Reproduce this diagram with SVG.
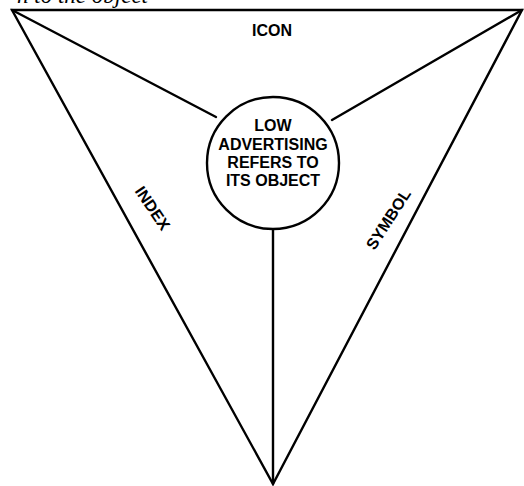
<svg xmlns="http://www.w3.org/2000/svg" width="524" height="486" viewBox="0 0 524 486">
<style>
.ln{stroke:#000;stroke-width:2.4;fill:none;stroke-linecap:round}
.lb{font-family:"Liberation Sans",Arial,sans-serif;font-weight:bold;font-size:16px;fill:#000;text-anchor:middle}
</style>
<rect width="524" height="486" fill="#fff"/>
<text x="148" y="3" text-anchor="end" font-family="Liberation Serif, serif" font-style="italic" font-size="23" fill="#000">n to the object</text>
<g id="connectors">
<polygon class="ln" points="12,10 522,10 273,484"/>
<line class="ln" x1="12" y1="10" x2="216" y2="117"/>
<line class="ln" x1="522" y1="10" x2="332" y2="120"/>
<line class="ln" x1="273" y1="229" x2="273" y2="484"/>
</g>
<g id="icon"><text class="lb" x="272" y="36" font-size="17">ICON</text></g>
<g id="index"><text class="lb" transform="translate(153,208) rotate(56)" x="0" y="6">INDEX</text></g>
<g id="symbol"><text class="lb" transform="translate(388,219) rotate(-57)" x="0" y="6">SYMBOL</text></g>
<g id="center">
<circle cx="273" cy="163" r="66" fill="#fff" stroke="#000" stroke-width="2.4"/>
<text class="lb" x="273" y="131">LOW</text>
<text class="lb" x="273" y="150">ADVERTISING</text>
<text class="lb" x="273" y="168">REFERS TO</text>
<text class="lb" x="273" y="186">ITS OBJECT</text>
</g>
</svg>
